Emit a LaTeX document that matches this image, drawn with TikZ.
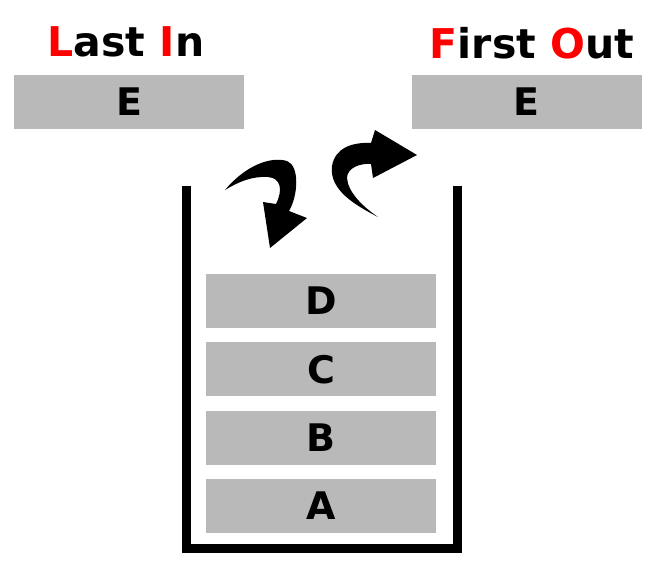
\documentclass[tikz,border=0pt]{standalone}
\usepackage{fontspec}
\setmainfont{DejaVu Sans}
\usepackage{tikz}
\usetikzlibrary{positioning}
\definecolor{cellgray}{RGB}{185, 185, 185}
\definecolor{keyred}{RGB}{255, 0, 0}

\begin{document}
\begin{tikzpicture}[
    x=1pt, y=-1pt,
    cell/.style={rectangle, fill=cellgray, minimum width=230pt, minimum height=54pt,
                 inner sep=0pt, font=\fontsize{38}{38}\selectfont\bfseries},
    title/.style={anchor=base, inner sep=0pt, font=\fontsize{41}{41}\selectfont\bfseries},
    swoosh/.style={fill=black, draw=none}
]
\useasboundingbox (0,0) rectangle (658,582);
% titles
\node[title] (lastin) at (126,56) {\textcolor{keyred}{L}ast \textcolor{keyred}{I}n};
\node[title] (firstout) at (532,58) {\textcolor{keyred}{F}irst \textcolor{keyred}{O}ut};
% the element going in and coming out
\node[cell] (push) at (129,102) {E};
\node[cell] (pop) at (526.5,102) {E};
% stack contents
\node[cell] (a) at (321,506) {A};
\node[cell, above=14pt of a] (b) {B};
\node[cell, above=14pt of b] (c) {C};
\node[cell, above=14pt of c] (d) {D};
% container
\draw[line width=9pt] (186.5,186) -- (186.5,548.5) -- (457.5,548.5) -- (457.5,186);
% push arrow
\fill[swoosh] (225,190) .. controls (245,166) and (270,156) .. (287,161)
    .. controls (300,166) and (298,196) .. (289,211) -- (307,218) -- (270,248)
    -- (263,202) -- (276,204) .. controls (283,190) and (281,178) .. (268,177)
    .. controls (252,176) and (238,182) .. (225,190) -- cycle;
% pop arrow
\fill[swoosh] (378,217) .. controls (355,205) and (329,190) .. (332,166)
    .. controls (335,148) and (352,142) .. (371,143) -- (375,130) -- (417,155)
    -- (373,178) -- (371,164) .. controls (360,163) and (347,168) .. (347,178)
    .. controls (348,192) and (362,206) .. (378,217) -- cycle;
\end{tikzpicture}
\end{document}
